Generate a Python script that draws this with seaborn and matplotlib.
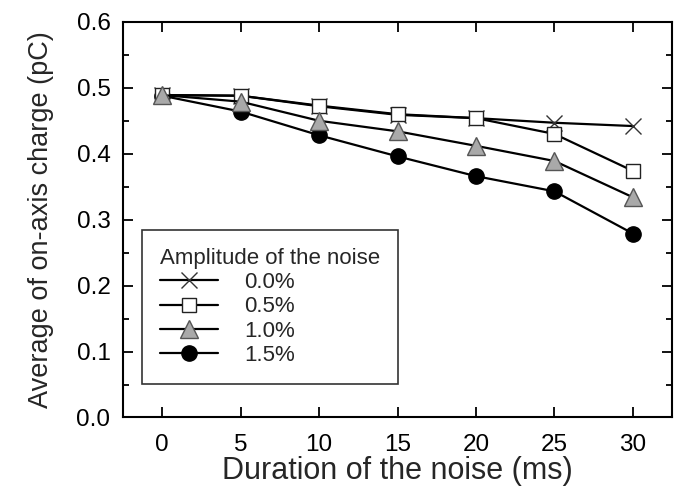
import numpy as np
import pandas as pd
import matplotlib
matplotlib.use("Agg")
import matplotlib.pyplot as plt
import seaborn as sns
from matplotlib.ticker import MultipleLocator

# data
duration = [0, 5, 10, 15, 20, 25, 30]
amp_labels = ["0.0%", "0.5%", "1.0%", "1.5%"]
charge_00 = [0.489, 0.488, 0.472, 0.459, 0.454, 0.447, 0.442]
charge_05 = [0.489, 0.488, 0.473, 0.460, 0.454, 0.430, 0.374]
charge_10 = [0.489, 0.479, 0.450, 0.434, 0.412, 0.389, 0.334]
charge_15 = [0.488, 0.464, 0.428, 0.396, 0.366, 0.343, 0.279]

sns.set_style("ticks")
plt.rcParams['font.family'] = ['Liberation Sans', 'DejaVu Sans']

df = pd.DataFrame({
    "duration": duration * 4,
    "charge": charge_00 + charge_05 + charge_10 + charge_15,
    "amp": [a for a in amp_labels for _ in duration],
})

styles = {
    "0.0%": dict(marker="x", markersize=11, markerfacecolor="none", markeredgecolor="#333333", markeredgewidth=1.0, zorder=2),
    "0.5%": dict(marker="s", markersize=9.5, markerfacecolor="white", markeredgecolor="#222222", markeredgewidth=1.0, zorder=4),
    "1.0%": dict(marker="^", markersize=13, markerfacecolor="#a9a9a9", markeredgecolor="#555555", markeredgewidth=1.0, zorder=5),
    "1.5%": dict(marker="o", markersize=11, markerfacecolor="black", markeredgecolor="black", markeredgewidth=1.0, zorder=3),
}

fig = plt.figure(figsize=(6.83, 4.97), dpi=100)
ax = fig.add_axes([0.18, 0.160, 0.804, 0.796])

for a in amp_labels:
    sub = df[df["amp"] == a]
    sns.lineplot(data=sub, x="duration", y="charge", ax=ax, color="black",
                 linewidth=1.6, label=a, **styles[a])

ax.set_xlim(-2.5, 32.5)
ax.set_ylim(0.0, 0.6)
ax.xaxis.set_major_locator(MultipleLocator(5))
ax.yaxis.set_major_locator(MultipleLocator(0.1))
ax.yaxis.set_minor_locator(MultipleLocator(0.05))
ax.yaxis.set_major_formatter(matplotlib.ticker.FormatStrFormatter("%.1f"))
ax.tick_params(which="both", direction="in", top=True, right=True, width=1.3, labelsize=17.5, colors="black")
ax.tick_params(which="major", length=7)
ax.tick_params(which="minor", length=4)
ax.tick_params(axis="x", which="minor", bottom=False, top=False)
ax.tick_params(axis="x", pad=12)
ax.tick_params(axis="y", pad=9)
for s in ax.spines.values():
    s.set_linewidth(1.5)
    s.set_color("black")

ax.set_xlabel("Duration of the noise (ms)", fontsize=22, labelpad=0)
ax.set_ylabel("Average of on-axis charge (pC)", fontsize=19.5, labelpad=16)

leg = ax.legend(title="Amplitude of the noise", loc="lower left",
                bbox_to_anchor=(0.035, 0.085), borderaxespad=0, fontsize=16,
                title_fontsize=16, frameon=True, fancybox=False, edgecolor="black",
                handlelength=2.6, handletextpad=1.2, labelspacing=0.15, borderpad=0.8)
leg._legend_box.align = "left"
leg.get_frame().set_linewidth(1.2)

fig.savefig("out.png", dpi=100)
